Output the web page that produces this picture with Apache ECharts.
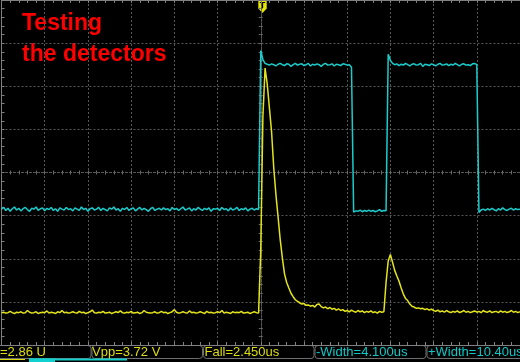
<!DOCTYPE html>
<html>
<head>
<meta charset="utf-8">
<script src="https://cdn.jsdelivr.net/npm/echarts@6/dist/echarts.min.js"></script>
<style>
html,body{margin:0;padding:0;background:#000;}
#chart{width:520px;height:362px;}
</style>
</head>
<body>
<div id="chart"></div>
<script>
// Time base: samples every 0.25 us from -30 us to +30 us (5 us/div, trigger at centre)
const sampleStartUs = -30;
const sampleStepUs = 0.25;

// CH1 (yellow) in divisions
const ch1Div = [
-3.25,-3.24,-3.26,-3.25,-3.22,-3.25,-3.27,-3.24,-3.25,-3.23,
-3.26,-3.25,-3.2,-3.24,-3.26,-3.25,-3.23,-3.27,-3.25,-3.24,
-3.25,-3.21,-3.26,-3.24,-3.25,-3.27,-3.23,-3.25,-3.2,-3.25,
-3.24,-3.26,-3.25,-3.23,-3.25,-3.26,-3.22,-3.25,-3.24,-3.27,
-3.25,-3.23,-3.19,-3.25,-3.26,-3.24,-3.25,-3.22,-3.26,-3.25,
-3.24,-3.27,-3.25,-3.23,-3.25,-3.21,-3.25,-3.26,-3.24,-3.25,
-3.22,-3.26,-3.25,-3.24,-3.27,-3.25,-3.2,-3.24,-3.25,-3.26,
-3.25,-3.23,-3.26,-3.25,-3.22,-3.25,-3.24,-3.27,-3.25,-3.23,
-3.18,-3.24,-3.26,-3.25,-3.23,-3.25,-3.26,-3.21,-3.25,-3.24,
-3.26,-3.25,-3.23,-3.25,-3.27,-3.22,-3.25,-3.24,-3.26,-3.25,
-3.23,-3.25,-3.2,-3.26,-3.24,-3.25,-3.27,-3.23,-3.25,-3.24,
-3.25,-3.22,-3.26,-3.25,-3.24,-3.27,-3.25,-3.23,-3.25,-3.26,
-1.8,1.3,2.42,2.05,1.5,0.95,0.12,-0.5,-1.02,-1.55,
-1.98,-2.35,-2.55,-2.68,-2.8,-2.88,-2.95,-2.99,-3.02,-3.05,
-3.04,-3.08,-3.07,-3.1,-3.08,-3.12,-3.06,-3.05,-3.11,-3.14,
-3.12,-3.16,-3.13,-3.17,-3.15,-3.19,-3.16,-3.2,-3.18,-3.22,
-3.2,-3.23,-3.19,-3.22,-3.24,-3.2,-3.23,-3.21,-3.25,-3.22,
-3.24,-3.21,-3.25,-3.23,-3.26,-3.22,-3.24,-3.23,-2.55,-2.05,
-1.9,-2.08,-2.27,-2.4,-2.52,-2.68,-2.82,-2.92,-2.97,-3.05,
-3.1,-3.12,-3.15,-3.14,-3.16,-3.15,-3.18,-3.16,-3.19,-3.17,
-3.2,-3.22,-3.19,-3.23,-3.21,-3.24,-3.2,-3.23,-3.25,-3.22,
-3.24,-3.21,-3.25,-3.23,-3.2,-3.24,-3.22,-3.25,-3.23,-3.21,
-3.24,-3.22,-3.25,-3.2,-3.23,-3.24,-3.21,-3.25,-3.23,-3.22,
-3.25,-3.21,-3.24,-3.22,-3.25,-3.23,-3.2,-3.24,-3.22,-3.25,
-3.23
];

// CH2 (cyan) in divisions
const ch2Div = [
-0.85,-0.81,-0.88,-0.83,-0.9,-0.84,-0.8,-0.87,-0.83,-0.89,
-0.84,-0.81,-0.86,-0.9,-0.83,-0.85,-0.8,-0.88,-0.84,-0.82,
-0.89,-0.83,-0.86,-0.81,-0.88,-0.84,-0.9,-0.82,-0.85,-0.87,
-0.81,-0.86,-0.84,-0.89,-0.82,-0.85,-0.88,-0.8,-0.86,-0.83,
-0.9,-0.84,-0.82,-0.87,-0.85,-0.81,-0.88,-0.83,-0.86,-0.89,
-0.82,-0.85,-0.8,-0.87,-0.84,-0.9,-0.83,-0.86,-0.81,-0.88,
-0.84,-0.82,-0.89,-0.85,-0.81,-0.87,-0.83,-0.86,-0.9,-0.84,
-0.81,-0.88,-0.85,-0.83,-0.87,-0.82,-0.86,-0.84,-0.89,-0.81,
-0.86,-0.83,-0.88,-0.84,-0.8,-0.87,-0.85,-0.82,-0.89,-0.84,
-0.87,-0.81,-0.85,-0.88,-0.83,-0.86,-0.82,-0.9,-0.84,-0.85,
-0.83,-0.88,-0.81,-0.86,-0.84,-0.89,-0.82,-0.87,-0.85,-0.81,
-0.88,-0.84,-0.86,-0.82,-0.89,-0.85,-0.83,-0.87,-0.84,-0.86,
2.83,2.62,2.53,2.51,2.49,2.52,2.5,2.47,2.51,2.53,
2.5,2.48,2.52,2.51,2.46,2.5,2.53,2.49,2.51,2.52,
2.48,2.5,2.53,2.47,2.51,2.49,2.52,2.5,2.46,2.51,
2.53,2.49,2.5,2.52,2.47,2.51,2.5,2.48,2.52,2.51,
2.49,2.5,2.44,-0.92,-0.89,-0.9,-0.87,-0.91,-0.88,-0.9,
-0.87,-0.9,-0.88,-0.91,-0.89,-0.86,-0.9,-0.88,-0.89,2.74,
2.6,2.53,2.5,2.52,2.48,2.51,2.49,2.53,2.5,2.47,
2.51,2.52,2.49,2.5,2.53,2.46,2.51,2.5,2.48,2.52,
2.5,2.47,2.51,2.53,2.49,2.5,2.52,2.48,2.51,2.49,
2.53,2.5,2.47,2.51,2.52,2.49,2.5,2.48,2.52,2.53,
2.5,-0.93,-0.87,-0.85,-0.88,-0.84,-0.87,-0.83,-0.86,-0.89,
-0.84,-0.87,-0.82,-0.86,-0.88,-0.85,-0.83,-0.87,-0.84,-0.86,
-0.85
];

const titleLines = ['Testing', 'the detectors'];
const ch1Measures = ['=2.86 U', 'Vpp=3.72 V', 'Fall=2.450us'];
const ch2Measures = ['-Width=4.100us', '+Width=10.40us'];

const YEL = '#e4e41c';
const CYA = '#1ccccc';
const TXT_Y = '#dcdc10';
const TXT_C = '#10c8c8';
const GRIDC = '#575757';

function pairs(vals) {
  return vals.map((v, i) => [sampleStartUs + i * sampleStepUs, v]);
}

const chart = echarts.init(document.getElementById('chart'), null, {renderer: 'canvas'});

const xBase = {type: 'value', min: -30, max: 30, interval: 5, axisLabel: {show: false}, splitLine: {show: false}};
const yBase = {type: 'value', min: -4, max: 4, interval: 1, axisLabel: {show: false}, splitLine: {show: false}};
const edgeLine = {lineStyle: {color: '#808080', width: 1}};
const tickStyle = {color: '#808080', width: 1};
const cTickStyle = {color: '#6a6a6a', width: 1};

const measureTexts = [];
const boxX = [91.5, 203, 314.5, 426.5];
const boxes = [];
const bx = [-20].concat(boxX);
for (let k = 0; k < 5; k++) {
  const x0 = bx[k];
  const x1 = k < 4 ? bx[k + 1] : 560;
  boxes.push({type: 'rect', silent: true, shape: {x: x0 + 0.5, y: 345.5, width: x1 - x0 - 1, height: 13, r: 3},
    style: {fill: 'none', stroke: '#6e6e6e', lineWidth: 1}});
}
const allMeasures = ch1Measures.map(t => [t, TXT_Y]).concat(ch2Measures.map(t => [t, TXT_C]));
const textX = [0, 92, 204.5, 316, 428];
allMeasures.forEach((m, k) => {
  measureTexts.push({type: 'text', silent: true, x: textX[k], y: 352.5,
    style: {text: m[0], fill: m[1], font: '13px "Liberation Sans Narrow", "Liberation Sans", sans-serif', textVerticalAlign: 'middle'}});
});

chart.setOption({
  animation: false,
  backgroundColor: '#000',
  grid: {left: 1.5, top: -1.4, width: 522, height: 346.4, containLabel: false},
  xAxis: [
    Object.assign({}, xBase, {position: 'bottom', axisLine: Object.assign({onZero: false}, edgeLine),
      axisTick: {show: true, inside: true, length: 3, lineStyle: tickStyle},
      minorTick: {show: true, splitNumber: 5, length: 3, lineStyle: tickStyle},
      splitLine: {show: true, lineStyle: {color: GRIDC, width: 1, type: [2, 2]}}}),
    Object.assign({}, xBase, {position: 'top', axisLine: Object.assign({onZero: false}, edgeLine),
      axisTick: {show: true, inside: true, length: 3, lineStyle: tickStyle},
      minorTick: {show: true, splitNumber: 5, length: 3, lineStyle: tickStyle}}),
    Object.assign({}, xBase, {position: 'bottom', axisLine: {show: true, onZero: true, onZeroAxisIndex: 0, lineStyle: {color: GRIDC, type: [2, 2]}},
      axisTick: {show: true, inside: true, length: 2, lineStyle: cTickStyle},
      minorTick: {show: true, splitNumber: 5, length: 2, lineStyle: cTickStyle}}),
    Object.assign({}, xBase, {position: 'bottom', axisLine: {show: true, onZero: true, onZeroAxisIndex: 0, lineStyle: {color: GRIDC, type: [2, 2]}},
      axisTick: {show: true, inside: false, length: 2, lineStyle: cTickStyle},
      minorTick: {show: true, splitNumber: 5, length: 2, lineStyle: cTickStyle}})
  ],
  yAxis: [
    Object.assign({}, yBase, {position: 'left', axisLine: Object.assign({onZero: false}, edgeLine),
      axisTick: {show: true, inside: true, length: 3, lineStyle: tickStyle},
      minorTick: {show: true, splitNumber: 5, length: 3, lineStyle: tickStyle},
      splitLine: {show: true, lineStyle: {color: GRIDC, width: 1, type: [2, 2]}}}),
    Object.assign({}, yBase, {position: 'left', axisLine: {show: true, onZero: true, onZeroAxisIndex: 0, lineStyle: {color: GRIDC, type: [2, 2]}},
      axisTick: {show: true, inside: true, length: 2, lineStyle: cTickStyle},
      minorTick: {show: true, splitNumber: 5, length: 2, lineStyle: cTickStyle}}),
    Object.assign({}, yBase, {position: 'left', axisLine: {show: true, onZero: true, onZeroAxisIndex: 0, lineStyle: {color: GRIDC, type: [2, 2]}},
      axisTick: {show: true, inside: false, length: 2, lineStyle: cTickStyle},
      minorTick: {show: true, splitNumber: 5, length: 2, lineStyle: cTickStyle}})
  ],
  series: [
    {name: 'CH2', type: 'line', xAxisIndex: 0, yAxisIndex: 0, data: pairs(ch2Div), showSymbol: false, silent: true,
      lineStyle: {color: CYA, width: 1.5}, z: 3},
    {name: 'CH1', type: 'line', xAxisIndex: 0, yAxisIndex: 0, data: pairs(ch1Div), showSymbol: false, silent: true,
      lineStyle: {color: YEL, width: 1.5}, z: 4}
  ],
  graphic: [
    {type: 'text', silent: true, x: 22, y: 12.5, style: {text: titleLines[0], fill: '#ff0000', font: 'bold 23px "Liberation Sans", Arial, sans-serif'}},
    {type: 'text', silent: true, x: 22, y: 43.5, style: {text: titleLines[1], fill: '#ff0000', font: 'bold 23px "Liberation Sans", Arial, sans-serif'}},
    {type: 'polygon', silent: true, shape: {points: [[258.3, 1], [266.7, 1], [266.7, 8.5], [262.5, 13], [258.3, 8.5]]}, style: {fill: '#e6e600'}},
    {type: 'text', silent: true, x: 262.5, y: 6, style: {text: 'T', fill: '#000', font: 'bold 9px "Liberation Sans", sans-serif', textAlign: 'center', textVerticalAlign: 'middle'}},
    {type: 'rect', silent: true, shape: {x: 0, y: 345.5, width: 520, height: 16.5}, style: {fill: '#000'}, z: -1}
  ].concat(boxes).concat(measureTexts).concat([
    {type: 'line', silent: true, shape: {x1: 0, y1: 359.5, x2: 25, y2: 359.5}, style: {stroke: TXT_Y, lineWidth: 1}},
    {type: 'rect', silent: true, shape: {x: 29, y: 358.5, width: 98, height: 2}, style: {fill: '#10d0d0'}},
    {type: 'rect', silent: true, shape: {x: 29, y: 358.5, width: 26, height: 4}, style: {fill: '#10d0d0'}}
  ])
});
</script>
</body>
</html>
